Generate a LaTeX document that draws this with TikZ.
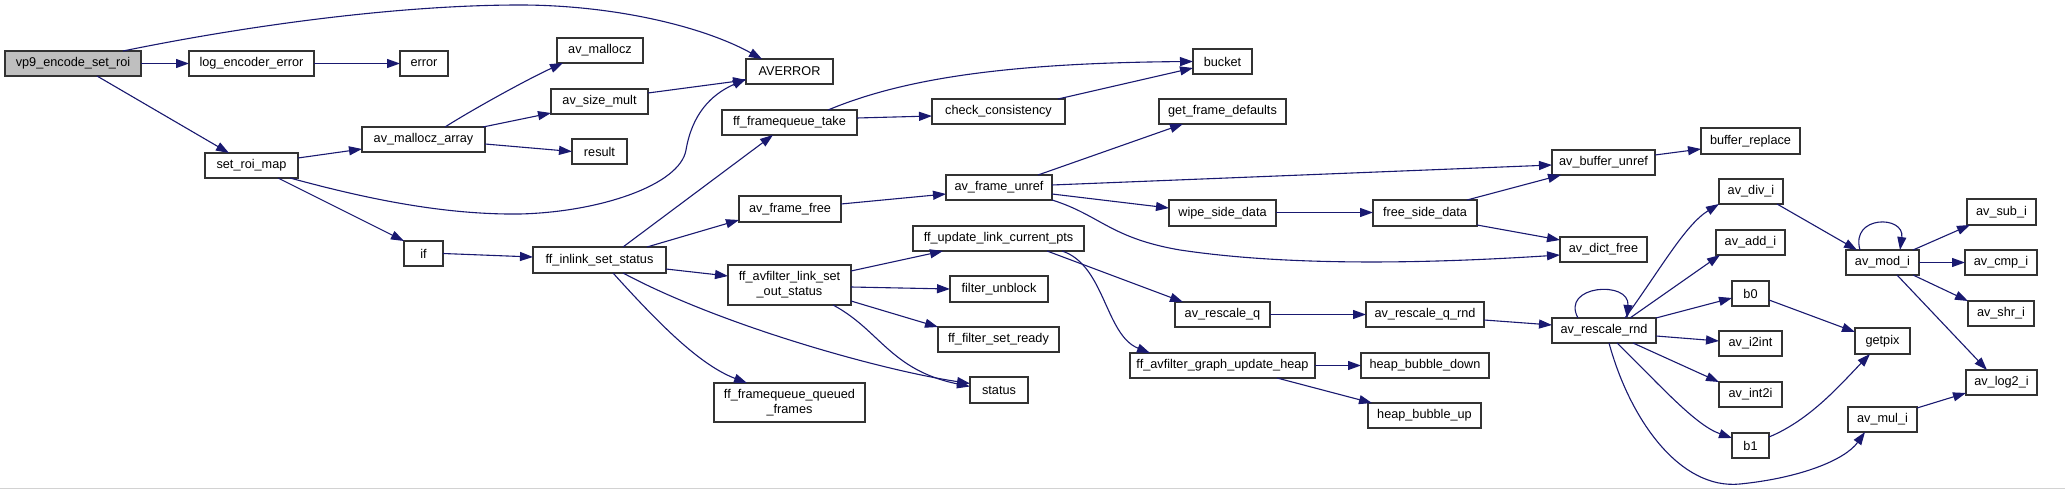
\documentclass[tikz,border=0pt]{standalone}
\usepackage{fontspec}
\setmainfont{Liberation Sans}
\usetikzlibrary{arrows.meta}
\definecolor{edgeblue}{HTML}{191970}
\definecolor{rootgray}{HTML}{BFBFBF}
\tikzset{
  box/.style={draw=black!80, line width=1.2pt, fill=white, inner sep=0pt, outer sep=0pt,
    align=center, font=\fontsize{12.7}{15}\selectfont},
  rootbox/.style={fill=rootgray},
  edge/.style={draw=edgeblue, line width=1.1pt, -{Triangle[length=13pt,width=9pt]}}
}
\newcommand\bx[7][]{\node[box,#1,minimum width={(#5-#3)*1pt},minimum height={(#6-#4)*1pt}] (#2) at ({(#3+#5)/2},{(#4+#6)/2}) {#7};}
\begin{document}
\begin{tikzpicture}[x=1pt,y=-1pt]
\useasboundingbox (0,0) rectangle (2065,489);
\fill[white] (0,0) rectangle (2065,489);
\draw[gray!35, line width=1pt] (0,488) -- (2065,488);
% nodes
\bx[rootbox]{vp9}{5}{51}{141}{76}{vp9\_encode\_set\_roi}
\bx{log}{189}{51}{314}{76}{log\_encoder\_error}
\bx{error}{400}{51}{448}{76}{error}
\bx{setroi}{205}{153}{298}{178}{set\_roi\_map}
\bx{mza}{362}{127}{485}{152}{av\_mallocz\_array}
\bx{ifn}{404}{241}{443}{266}{if}
\bx{mlc}{557}{38}{643}{63}{av\_mallocz}
\bx{averror}{746}{59}{833}{84}{AVERROR}
\bx{sizem}{551}{89}{648}{114}{av\_size\_mult}
\bx{result}{572}{139}{627}{164}{result}
\bx{fqtake}{722}{110}{857}{135}{ff\_framequeue\_take}
\bx{check}{932}{99}{1065}{124}{check\_consistency}
\bx{ffree}{739}{196}{841}{222}{av\_frame\_free}
\bx{funref}{946}{175}{1052}{200}{av\_frame\_unref}
\bx{updpts}{913}{226}{1084}{251}{ff\_update\_link\_current\_pts}
\bx{inlink}{533}{247}{666}{273}{ff\_inlink\_set\_status}
\bx{setout}{728}{265}{851}{305}{ff\_avfilter\_link\_set\\\_out\_status}
\bx{unblock}{950}{276}{1048}{302}{filter\_unblock}
\bx{setready}{938}{327}{1059}{352}{ff\_filter\_set\_ready}
\bx{status}{970}{377}{1028}{403}{status}
\bx{queued}{714}{383}{865}{422}{ff\_framequeue\_queued\\\_frames}
\bx{bucket}{1193}{49}{1252}{74}{bucket}
\bx{getdef}{1159}{99}{1286}{124}{get\_frame\_defaults}
\bx{wipe}{1169}{200}{1276}{226}{wipe\_side\_data}
\bx{freeside}{1373}{200}{1477}{226}{free\_side\_data}
\bx{resq}{1175}{302}{1270}{327}{av\_rescale\_q}
\bx{resqrnd}{1366}{302}{1484}{327}{av\_rescale\_q\_rnd}
\bx{heap}{1130}{353}{1315}{378}{ff\_avfilter\_graph\_update\_heap}
\bx{bdown}{1361}{353}{1489}{378}{heap\_bubble\_down}
\bx{bup}{1368}{403}{1481}{428}{heap\_bubble\_up}
\bx{bufunref}{1552}{150}{1655}{175}{av\_buffer\_unref}
\bx{bufrep}{1701}{128}{1800}{154}{buffer\_replace}
\bx{divi}{1719}{179}{1783}{204}{av\_div\_i}
\bx{addi}{1716}{230}{1785}{255}{av\_add\_i}
\bx{subi}{1967}{199}{2036}{225}{av\_sub\_i}
\bx{dictfree}{1560}{237}{1647}{262}{av\_dict\_free}
\bx{modi}{1846}{250}{1919}{275}{av\_mod\_i}
\bx{cmpi}{1965}{250}{2037}{275}{av\_cmp\_i}
\bx{bzero}{1732}{281}{1769}{306}{b0}
\bx{resrnd}{1552}{318}{1656}{343}{av\_rescale\_rnd}
\bx{shri}{1968}{301}{2034}{326}{av\_shr\_i}
\bx{getpix}{1855}{328}{1910}{354}{getpix}
\bx{itoint}{1719}{331}{1782}{356}{av\_i2int}
\bx{inttoi}{1719}{382}{1782}{407}{av\_int2i}
\bx{logi}{1966}{370}{2037}{395}{av\_log2\_i}
\bx{muli}{1848}{407}{1917}{432}{av\_mul\_i}
\bx{bone}{1732}{433}{1769}{458}{b1}
% edges
\draw[edge] (vp9.east) -- (log.west);
\draw[edge] ([xshift=118pt]vp9.north west) .. controls (250,25) and (400,5) .. (520,5) .. controls (610,5) and (700,25) .. ([xshift=16pt]averror.north west);
\draw[edge] ([xshift=92pt]vp9.south west) -- ([xshift=24pt]setroi.north west);
\draw[edge] (log.east) -- (error.west);
\draw[edge] ([yshift=7.5pt]setroi.east) -- ([yshift=-9.5pt]mza.west);
\draw[edge] ([xshift=-8pt]setroi.south east) .. controls (360,197) and (440,215) .. (520,214) .. controls (600,212) and (680,185) .. (686,150) .. controls (692,115) and (710,95) .. ([yshift=-7.5pt]averror.west);
\draw[edge] ([xshift=-20pt]setroi.south east) -- (ifn.north west);
\draw[edge] ([xshift=83pt]mza.north west) .. controls (475,108) and (530,78) .. ([xshift=6pt]mlc.south west);
\draw[edge] ([xshift=-2pt]mza.north east) -- ([yshift=1pt]sizem.south west);
\draw[edge] ([yshift=-4.5pt]mza.east) -- (result.west);
\draw[edge] ([yshift=8.5pt]sizem.east) -- ([yshift=-8.5pt]averror.west);
\draw[edge] (ifn.east) -- ([yshift=3pt]inlink.west);
\draw[edge] ([xshift=90pt]inlink.north west) -- ([xshift=51pt]fqtake.south west);
\draw[edge] ([xshift=114pt]inlink.north west) -- ([yshift=2pt]ffree.south west);
\draw[edge] ([yshift=-9pt]inlink.east) -- ([yshift=9pt]setout.west);
\draw[edge] ([xshift=80pt]inlink.south west) .. controls (660,325) and (700,365) .. ([xshift=33pt]queued.north west);
\draw[edge] ([xshift=90pt]inlink.south west) .. controls (720,325) and (880,370) .. ([yshift=6.5pt]status.west);
\draw[edge] ([yshift=-6pt]setout.north east) -- ([xshift=30pt]updpts.south west);
\draw[edge] ([yshift=-2pt]setout.east) -- (unblock.west);
\draw[edge] ([yshift=4pt]setout.south east) -- (setready.north west);
\draw[edge] ([xshift=105pt]setout.south west) .. controls (880,330) and (890,370) .. ([yshift=3.5pt]status.west);
\draw[edge] ([xshift=106pt]fqtake.north west) .. controls (900,80) and (1000,63) .. (bucket.west);
\draw[edge] ([yshift=4.5pt]fqtake.east) -- ([yshift=-4.5pt]check.west);
\draw[edge] ([xshift=-7pt]check.north east) -- ([yshift=-6.5pt]bucket.west);
\draw[edge] ([yshift=5pt]ffree.east) -- ([yshift=-6.5pt]funref.west);
\draw[edge] ([xshift=-14pt]funref.north east) -- ([xshift=24pt]getdef.south west);
\draw[edge] ([yshift=2.5pt]funref.east) -- ([yshift=-2.5pt]bufunref.west);
\draw[edge] ([yshift=-6.5pt]funref.east) -- ([yshift=5pt]wipe.west);
\draw[edge] (funref.south east) .. controls (1100,215) and (1110,238) .. (1180,250) .. controls (1300,268) and (1450,262) .. ([yshift=-5.5pt]dictfree.west);
\draw[edge] ([yshift=0.5pt]wipe.east) -- ([yshift=0.5pt]freeside.west);
\draw[edge] ([xshift=-10pt]freeside.north east) -- ([xshift=9pt]bufunref.south west);
\draw[edge] ([yshift=1pt]freeside.south east) -- ([yshift=9.5pt]dictfree.west);
\draw[edge] ([yshift=7.5pt]bufunref.east) -- ([yshift=-8pt]bufrep.west);
\draw[edge] ([xshift=134pt]updpts.south west) -- ([xshift=8pt]resq.north west);
\draw[edge] ([xshift=149pt]updpts.south west) .. controls (1105,265) and (1105,335) .. ([xshift=20pt]heap.north west);
\draw[edge] (resq.east) -- (resqrnd.west);
\draw[edge] ([yshift=-5.5pt]resqrnd.east) -- ([yshift=5.5pt]resrnd.west);
\draw[edge] (heap.east) -- (bdown.west);
\draw[edge] ([xshift=147pt]heap.south west) -- ([xshift=4pt]bup.north west);
\draw[edge] ([xshift=26pt]resrnd.north west) .. controls (1560,285) and (1630,280) .. ([xshift=75pt]resrnd.north west);
\draw[edge] ([xshift=73pt]resrnd.north west) .. controls (1660,270) and (1685,225) .. (divi.south west);
\draw[edge] ([xshift=78pt]resrnd.north west) -- ([xshift=4pt]addi.south west);
\draw[edge] (resrnd.north east) -- ([yshift=-4.5pt]bzero.west);
\draw[edge] ([yshift=-5.5pt]resrnd.east) -- ([yshift=2.5pt]itoint.west);
\draw[edge] ([xshift=81pt]resrnd.south west) -- (inttoi.north west);
\draw[edge] ([xshift=65pt]resrnd.south west) .. controls (1660,385) and (1695,425) .. ([yshift=7.5pt]bone.west);
\draw[edge] ([xshift=57pt]resrnd.south west) .. controls (1630,420) and (1680,490) .. (1740,484) .. controls (1800,478) and (1845,460) .. ([xshift=17pt]muli.south west);
\draw[edge] ([xshift=-6pt]divi.south east) -- ([xshift=11pt]modi.north west);
\draw[edge] ([xshift=14pt]modi.north west) .. controls (1850,215) and (1905,215) .. ([xshift=54pt]modi.north west);
\draw[edge] ([xshift=-6pt]modi.north east) -- ([xshift=3pt]subi.south west);
\draw[edge] (modi.east) -- (cmpi.west);
\draw[edge] ([xshift=-6pt]modi.south east) -- (shri.north west);
\draw[edge] ([xshift=51pt]modi.south west) -- ([xshift=21pt]logi.north west);
\draw[edge] ([yshift=-6.5pt]bzero.east) -- ([yshift=9pt]getpix.west);
\draw[edge] ([yshift=8.5pt]bone.east) .. controls (1810,420) and (1840,385) .. ([xshift=15pt]getpix.south west);
\draw[edge] ([yshift=-1pt]muli.north east) -- ([yshift=2pt]logi.south west);
\end{tikzpicture}
\end{document}
